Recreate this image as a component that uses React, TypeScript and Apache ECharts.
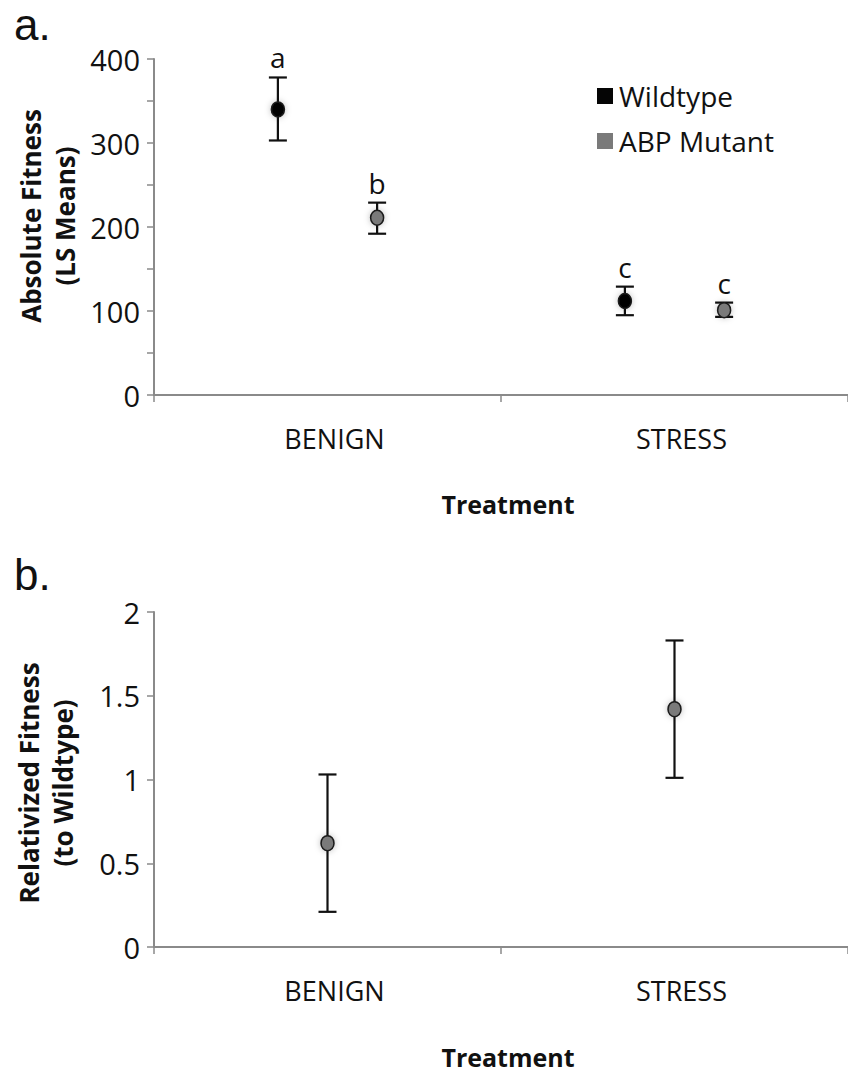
import React, { useEffect, useRef } from "react";
import * as echarts from "echarts";

const categories = ["BENIGN", "STRESS"];
const seriesNames = ["Wildtype", "ABP Mutant"];
const seriesColors = ["#050505", "#7a7a7a"];

// Panel a: absolute fitness (LS means) with error bar limits
const wildMean = [340, 112];
const wildLower = [303, 95];
const wildUpper = [378, 129];
const wildLetters = ["a", "c"];

const abpMean = [211, 101];
const abpLower = [192, 93];
const abpUpper = [229, 110];
const abpLetters = ["b", "c"];

// Panel b: relativized fitness (to wildtype)
const relMean = [0.62, 1.42];
const relLower = [0.21, 1.01];
const relUpper = [1.03, 1.83];

const absTicks = { min: 0, max: 400, interval: 100 };
const relTicks = { min: 0, max: 2, interval: 0.5 };

const FONT = "'Open Sans', 'DejaVu Sans', sans-serif";
const TEXT = "#111";
const AXIS = "#8a8a8a";

function makeRender(offsetFrac: number, fill: string, letters: string[] | null) {
  return (params: any, api: any) => {
    const cat = api.value(0);
    const mean = api.value(1);
    const lo = api.value(2);
    const hi = api.value(3);
    const band = api.size([1, 0])[0];
    const c = api.coord([cat, mean]);
    const x = c[0] + offsetFrac * band;
    const yLo = api.coord([cat, lo])[1];
    const yHi = api.coord([cat, hi])[1];
    const stroke = { stroke: "#111", lineWidth: 2.2 };
    const children: any[] = [
      { type: "line", shape: { x1: x, y1: yHi, x2: x, y2: yLo }, style: stroke },
      { type: "line", shape: { x1: x - 9, y1: yHi, x2: x + 9, y2: yHi }, style: stroke },
      { type: "line", shape: { x1: x - 9, y1: yLo, x2: x + 9, y2: yLo }, style: stroke },
      {
        type: "ellipse",
        shape: { cx: x, cy: c[1], rx: 6.5, ry: 7.5 },
        style: { fill, stroke: "#1a1a1a", lineWidth: 1.5, shadowBlur: 6, shadowColor: "rgba(0,0,0,0.25)" },
      },
    ];
    if (letters) {
      children.push({
        type: "text",
        style: {
          text: letters[params.dataIndex],
          x,
          y: yHi - 6,
          align: "center",
          verticalAlign: "bottom",
          font: `28px ${FONT}`,
          fill: TEXT,
        },
      });
    }
    return { type: "group", children };
  };
}

function rows(mean: number[], lower: number[], upper: number[]) {
  return mean.map((m, i) => [i, m, lower[i], upper[i]]);
}

function xAxisCfg(gridIndex: number) {
  return {
    type: "category",
    gridIndex,
    data: categories,
    axisLine: { lineStyle: { color: AXIS, width: 2 } },
    axisTick: { show: true, length: 7, lineStyle: { color: AXIS, width: 1.5 } },
    axisLabel: { fontSize: 27, fontFamily: FONT, color: TEXT, margin: 30, padding: [0, 0, 0, 14] },
    splitLine: { show: false },
  };
}

const legendGraphics = seriesNames.flatMap((name, i) => [
  {
    type: "rect",
    shape: { x: 597, y: 88 + i * 45, width: 16, height: 16 },
    style: { fill: seriesColors[i] },
  },
  {
    type: "text",
    x: 619,
    y: 96 + i * 45,
    style: { text: name, font: `28px ${FONT}`, fill: TEXT, verticalAlign: "middle" },
  },
]);

export default function App() {
  const ref = useRef<HTMLDivElement>(null);
  useEffect(() => {
    if (!ref.current) return;
    const chart = echarts.init(ref.current, null, { renderer: "svg" });
    chart.setOption({
      animation: false,
      backgroundColor: "#fff",
      grid: [
        { left: 154, top: 59, width: 700, height: 336 },
        { left: 154, top: 612, width: 700, height: 335 },
      ],
      xAxis: [xAxisCfg(0), xAxisCfg(1)],
      yAxis: [
        {
          type: "value",
          gridIndex: 0,
          min: absTicks.min,
          max: absTicks.max,
          interval: absTicks.interval,
          axisLine: { show: true, lineStyle: { color: AXIS, width: 2 } },
          axisTick: { show: true, length: 7, lineStyle: { color: AXIS, width: 1.5 } },
          minorTick: { show: true, splitNumber: 2, length: 7, lineStyle: { color: AXIS, width: 1.5 } },
          axisLabel: { fontSize: 29, fontFamily: FONT, color: TEXT, margin: 14 },
          splitLine: { show: false },
        },
        {
          type: "value",
          gridIndex: 1,
          min: relTicks.min,
          max: relTicks.max,
          interval: relTicks.interval,
          axisLine: { show: true, lineStyle: { color: AXIS, width: 2 } },
          axisTick: { show: true, length: 7, lineStyle: { color: AXIS, width: 1.5 } },
          axisLabel: { fontSize: 29, fontFamily: FONT, color: TEXT, margin: 14 },
          splitLine: { show: false },
        },
      ],
      series: [
        {
          name: seriesNames[0],
          type: "custom",
          xAxisIndex: 0,
          yAxisIndex: 0,
          itemStyle: { color: seriesColors[0] },
          encode: { x: 0, y: [1, 2, 3] },
          data: rows(wildMean, wildLower, wildUpper),
          renderItem: makeRender(-0.143, seriesColors[0], wildLetters),
        },
        {
          name: seriesNames[1],
          type: "custom",
          xAxisIndex: 0,
          yAxisIndex: 0,
          itemStyle: { color: seriesColors[1] },
          encode: { x: 0, y: [1, 2, 3] },
          data: rows(abpMean, abpLower, abpUpper),
          renderItem: makeRender(0.143, seriesColors[1], abpLetters),
        },
        {
          name: "Relativized",
          type: "custom",
          xAxisIndex: 1,
          yAxisIndex: 1,
          itemStyle: { color: seriesColors[1] },
          encode: { x: 0, y: [1, 2, 3] },
          data: rows(relMean, relLower, relUpper),
          renderItem: makeRender(0, seriesColors[1], null),
        },
      ],
      graphic: [
        ...legendGraphics,
        {
          type: "text",
          left: 14,
          top: 2,
          style: { text: "a.", font: `44px 'Liberation Sans', Arial, sans-serif`, fill: TEXT },
        },
        {
          type: "text",
          left: 14,
          top: 552,
          style: { text: "b.", font: `44px 'Liberation Sans', Arial, sans-serif`, fill: TEXT },
        },
        {
          type: "text",
          x: 48,
          y: 216,
          rotation: Math.PI / 2,
          style: {
            text: "Absolute Fitness\n(LS Means)",
            font: `bold 26px ${FONT}`,
            lineHeight: 34,
            align: "center",
            verticalAlign: "middle",
            fill: TEXT,
          },
        },
        {
          type: "text",
          x: 46,
          y: 783,
          rotation: Math.PI / 2,
          style: {
            text: "Relativized Fitness\n(to Wildtype)",
            font: `bold 26px ${FONT}`,
            lineHeight: 34,
            align: "center",
            verticalAlign: "middle",
            fill: TEXT,
          },
        },
        {
          type: "text",
          x: 508,
          y: 504,
          style: { text: "Treatment", font: `bold 25px ${FONT}`, align: "center", verticalAlign: "middle", fill: TEXT },
        },
        {
          type: "text",
          x: 508,
          y: 1057,
          style: { text: "Treatment", font: `bold 25px ${FONT}`, align: "center", verticalAlign: "middle", fill: TEXT },
        },
      ],
    });
    return () => chart.dispose();
  }, []);
  return (
    <div
      ref={ref}
      style={{ position: "absolute", left: 0, top: 0, width: 848, height: 1073, background: "#fff" }}
    />
  );
}
